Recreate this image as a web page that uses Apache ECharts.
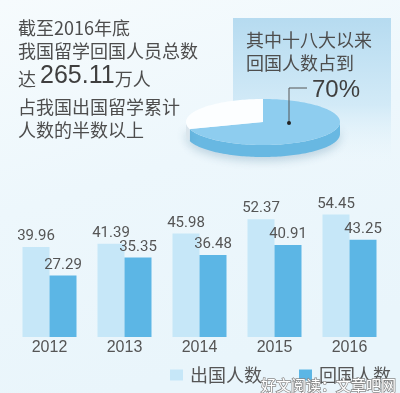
<!DOCTYPE html>
<html><head><meta charset="utf-8">
<script src="https://cdn.jsdelivr.net/npm/echarts@6/dist/echarts.min.js"></script>
<style>html,body{margin:0;padding:0;background:#eef7fc}#c{width:400px;height:393px}</style>
</head><body><div id="c"></div>
<script>
const years = ['2012', '2013', '2014', '2015', '2016'];
const outbound = [39.96, 41.39, 45.98, 52.37, 54.45];
const returned = [27.29, 35.35, 36.48, 40.91, 43.25];
const seriesNames = ['出国人数', '回国人数'];
const pieNames = ['十八大以来回国', '其他'];
const pieValues = [70, 30];

const CJK = '"Noto Sans CJK SC", "Noto Sans", sans-serif';
const NARROW = 'Roboto, "Liberation Sans", sans-serif';
const TXT = '#4d4d4d';

const pieTotal = pieValues.reduce((a, b) => a + b, 0);
const pieTop = ['#8ecdef', '#fcfeff'];
const pieSide = ['#68b8e2', '#dbe6ed'];

function renderPie(params, api) {
  const i = params.dataIndex;
  let start = 0;
  for (let j = 0; j < i; j++) start += pieValues[j];
  const a1 = start / pieTotal * Math.PI * 2;
  const a2 = (start + api.value(0)) / pieTotal * Math.PI * 2;
  const cx = 263, cy = 122, rx = 77, ry = 23, depth = 12;
  const pt = (a, dy) => [cx + rx * Math.sin(a), cy - ry * Math.cos(a) + dy];
  const arc = (s, e, dy) => {
    const pts = [], n = Math.max(2, Math.ceil((e - s) / 0.03));
    for (let k = 0; k <= n; k++) pts.push(pt(s + (e - s) * k / n, dy));
    return pts;
  };
  const children = [];
  const lo = Math.max(a1, Math.PI / 2), hi = Math.min(a2, Math.PI * 1.5);
  if (lo < hi) {
    const side = arc(lo, hi, 0).concat(arc(lo, hi, depth).reverse());
    children.push({
      type: 'polygon', z2: 1, shape: { points: side },
      style: { fill: pieSide[i], shadowBlur: 10, shadowColor: 'rgba(40,100,140,0.25)', shadowOffsetY: 4 }
    });
  }
  children.push({
    type: 'polygon', z2: 2, shape: { points: [[cx, cy]].concat(arc(a1, a2, 0)) },
    style: { fill: pieTop[i] }
  });
  return { type: 'group', children };
}

const barLabel = { show: true, position: 'top', distance: 3, fontFamily: NARROW, fontSize: 15, color: '#555' };

const chart = echarts.init(document.getElementById('c'), null, { renderer: 'canvas' });
chart.setOption({
  animation: false,
  backgroundColor: 'transparent',
  graphic: [
    { type: 'rect', z: -100, shape: { x: 0, y: 0, width: 400, height: 393 },
      style: { fill: new echarts.graphic.LinearGradient(0, 0, 0.3, 1, [
        { offset: 0, color: '#f6fbfd' }, { offset: 0.5, color: '#edf7fc' }, { offset: 1, color: '#e9f5fb' }]) } },
    { type: 'rect', z: -90, shape: { x: 233, y: 18, width: 158, height: 145 },
      style: { fill: new echarts.graphic.LinearGradient(0, 0, 0, 1, [
        { offset: 0, color: '#b6dbf0' }, { offset: 0.6, color: '#d2eaf7' }, { offset: 1, color: 'rgba(232,245,251,0)' }]) } },
    { type: 'text', z: 10, style: { text: '截至2016年底', x: 18, y: 28, font: '18px ' + CJK, fill: TXT, textVerticalAlign: 'middle' } },
    { type: 'text', z: 10, style: { text: '我国留学回国人员总数', x: 18, y: 51, font: '18px ' + CJK, fill: TXT, textVerticalAlign: 'middle' } },
    { type: 'text', z: 10, style: { text: '{a|达 }{b|265.11}{a|万人}', x: 18, y: 76, fill: TXT, textVerticalAlign: 'middle',
      rich: { a: { font: '18px ' + CJK, fill: TXT, verticalAlign: 'bottom' }, b: { font: '25px "Liberation Sans", Arial, sans-serif', fill: '#3f3f3f' } } } },
    { type: 'text', z: 10, style: { text: '占我国出国留学累计', x: 18, y: 107, font: '18px ' + CJK, fill: TXT, textVerticalAlign: 'middle' } },
    { type: 'text', z: 10, style: { text: '人数的半数以上', x: 18, y: 130, font: '18px ' + CJK, fill: TXT, textVerticalAlign: 'middle' } },
    { type: 'text', z: 10, style: { text: '其中十八大以来', x: 246, y: 40, font: '18px ' + CJK, fill: TXT, textVerticalAlign: 'middle' } },
    { type: 'text', z: 10, style: { text: '回国人数占到', x: 246, y: 63, font: '18px ' + CJK, fill: TXT, textVerticalAlign: 'middle' } },
    { type: 'text', z: 10, style: { text: '70%', x: 312, y: 90, font: '24px "Liberation Sans", Arial, sans-serif', fill: '#3f3f3f', textVerticalAlign: 'middle' } },
    { type: 'polyline', z: 10, shape: { points: [[307, 88], [289, 88], [289, 123]] }, style: { stroke: '#555', lineWidth: 1, fill: null } },
    { type: 'circle', z: 10, shape: { cx: 289, cy: 123, r: 2 }, style: { fill: '#222' } },
    { type: 'text', z: 20, style: { text: '好文阅读：文章吧网', x: 396, y: 385, font: '15px ' + CJK, fill: '#ffffff', stroke: '#8a8a8a', lineWidth: 1.5, textAlign: 'right', textVerticalAlign: 'middle' } }
  ],
  legend: {
    data: seriesNames, left: 165, top: 361, itemWidth: 13, itemHeight: 11, itemGap: 37,
    icon: 'rect', textStyle: { fontFamily: CJK, fontSize: 18, color: '#555', padding: [0, 0, 0, 2] }
  },
  grid: { left: 12, right: 13, top: 202, bottom: 56 },
  xAxis: {
    type: 'category', data: years,
    axisLine: { show: false }, axisTick: { show: false },
    axisLabel: { fontFamily: '"Liberation Sans", Arial, sans-serif', fontSize: 16, color: '#555', margin: 3 }
  },
  yAxis: { type: 'value', min: 0, max: 60, show: false, splitLine: { show: false } },
  series: [
    { name: seriesNames[0], type: 'bar', data: outbound, barGap: '0%', barCategoryGap: '28%',
      itemStyle: { color: '#c6e7f8' }, label: barLabel },
    { name: seriesNames[1], type: 'bar', data: returned,
      itemStyle: { color: '#5cb6e5' }, label: barLabel },
    { name: '占比', type: 'custom', coordinateSystem: 'none', z: 5, renderItem: renderPie,
      data: pieValues.map((v, i) => ({ name: pieNames[i], value: v })), silent: true }
  ]
});
</script></body></html>
